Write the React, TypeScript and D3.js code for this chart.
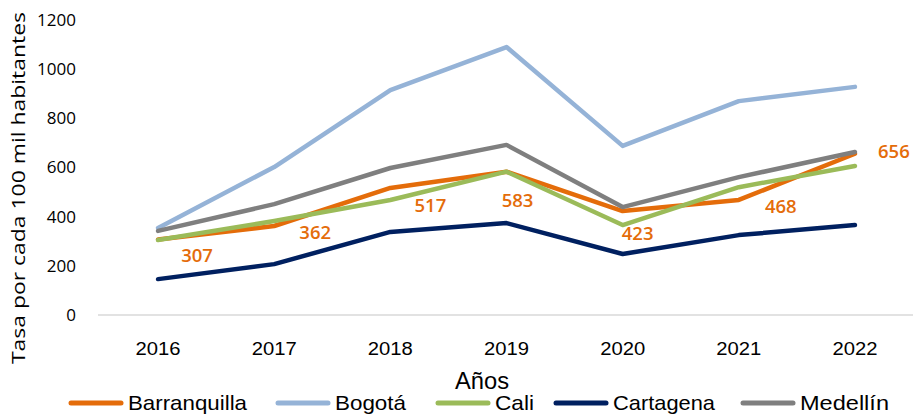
import React from "react";
import * as d3 from "d3";

const years = ["2016", "2017", "2018", "2019", "2020", "2021", "2022"];
const barranquilla = [307, 362, 517, 583, 423, 468, 656];
const bogota = [354, 602, 915, 1090, 688, 870, 928];
const cali = [305, 382, 468, 583, 366, 520, 606];
const cartagena = [146, 207, 338, 374, 248, 325, 366];
const medellin = [342, 451, 598, 692, 439, 561, 663];
const yTicks = [0, 200, 400, 600, 800, 1000, 1200];

const seriesNames = ["Barranquilla", "Bogotá", "Cali", "Cartagena", "Medellín"];
const seriesValues = [barranquilla, bogota, cali, cartagena, medellin];
const colors = ["#E46C0A", "#95B3D7", "#9BBB59", "#002060", "#7F7F7F"];

// label offsets (style) for Barranquilla data labels
const labelDx = [39, 41, 40, 11, 15, 42, 39];
const labelDy = [16, 7, 18, 29, 23, 7, -2];

const legendLineX = [68, 275, 435, 553, 740];
const legendTextLen = [119, 71, 39, 102, 89];

const narrow = "Liberation Sans, Arial, sans-serif";

export default function App() {
  const W = 916, H = 415;
  const x = d3.scaleBand().domain(years).range([100, 913]);
  const y = d3.scaleLinear().domain([0, 1200]).range([315, 20]);
  const cx = (d: string) => (x(d) as number) + x.bandwidth() / 2;
  const line = d3.line<number>().x((_, i) => cx(years[i])).y((v) => y(v));

  return (
    <svg width={W} height={H} style={{ position: "absolute", left: 0, top: 0 }}>
      <rect width={W} height={H} fill="#fff" />
      <line x1={98} x2={913} y1={y(0)} y2={y(0)} stroke="#D9D9D9" strokeWidth={1.5} />
      {yTicks.map((t) => (
        <text key={t} x={76} y={y(t)} dy="0.35em" textAnchor="end" fontFamily="Open Sans, sans-serif" fontSize={17} fill="#000">
          {t}
        </text>
      ))}
      {years.map((yr) => (
        <text key={yr} x={cx(yr)} y={349} dy="0.35em" textAnchor="middle" fontFamily={narrow} fontSize={18} textLength={45} lengthAdjust="spacingAndGlyphs" fill="#000">
          {yr}
        </text>
      ))}
      <text x={482} y={381} dy="0.35em" textAnchor="middle" fontFamily={narrow} fontSize={24} textLength={54} lengthAdjust="spacingAndGlyphs" fill="#000">Años</text>
      <text transform="translate(18,188) rotate(-90)" textAnchor="middle" dy="0.35em" fontFamily="Open Sans, sans-serif" fontSize={19} textLength={352} lengthAdjust="spacingAndGlyphs" fill="#000">
        Tasa por cada 100 mil habitantes
      </text>
      {seriesValues.map((vals, i) => (
        <path key={i} d={line(vals) as string} fill="none" stroke={colors[i]} strokeWidth={4.5} strokeLinejoin="round" strokeLinecap="round" />
      ))}
      {barranquilla.map((v, i) => (
        <text key={i} x={cx(years[i]) + labelDx[i]} y={y(v) + labelDy[i]} dy="0.35em" textAnchor="middle" fontFamily="Open Sans, sans-serif" fontWeight={600} fontSize={18.5} fill="#E46C0A">
          {v}
        </text>
      ))}
      {seriesNames.map((n, i) => (
        <g key={n}>
          <line x1={legendLineX[i] + 3} x2={legendLineX[i] + 53} y1={403} y2={403} stroke={colors[i]} strokeWidth={5} strokeLinecap="round" />
          <text x={legendLineX[i] + 60} y={403} dy="0.35em" fontFamily={narrow} fontSize={21} textLength={legendTextLen[i]} lengthAdjust="spacingAndGlyphs" fill="#000">{n}</text>
        </g>
      ))}
    </svg>
  );
}
